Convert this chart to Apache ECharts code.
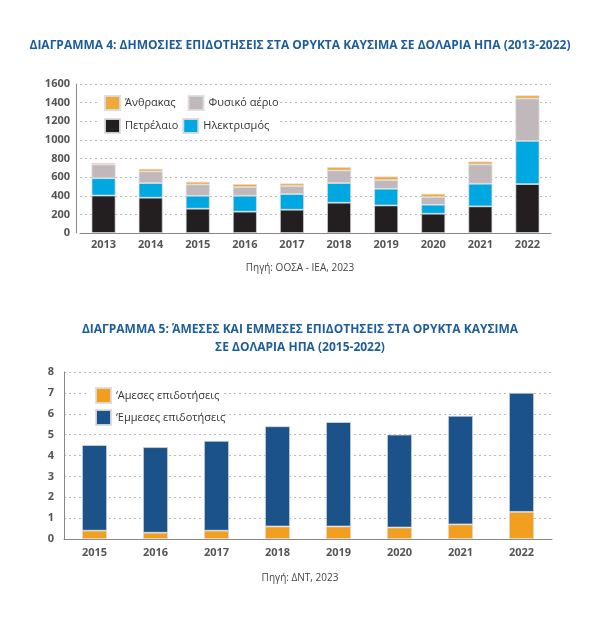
<!DOCTYPE html>
<html>
<head>
<meta charset="utf-8">
<script src="https://cdn.jsdelivr.net/npm/echarts@6/dist/echarts.min.js"></script>
<style>html,body{margin:0;padding:0;background:#fff}#c{width:600px;height:632px}</style>
</head>
<body>
<div id="c"></div>
<script>
// Chart 4 data
const years1 = ['2013','2014','2015','2016','2017','2018','2019','2020','2021','2022'];
const oil = [402, 379, 261, 229, 250, 325, 296, 207, 286, 525];
const electricity = [186, 157, 139, 171, 168, 211, 179, 97, 243, 464];
const gas = [147, 125, 121, 93, 86, 135, 93, 82, 207, 454];
const coal = [17, 28, 29, 32, 28, 36, 39, 35, 32, 35];
const yTicks1 = [0, 200, 400, 600, 800, 1000, 1200, 1400, 1600];

// Chart 5 data
const years2 = ['2015','2016','2017','2018','2019','2020','2021','2022'];
const direct = [0.4, 0.3, 0.4, 0.6, 0.6, 0.55, 0.7, 1.3];
const indirect = [4.1, 4.1, 4.3, 4.8, 5.0, 4.45, 5.2, 5.7];
const yTicks2 = [0, 1, 2, 3, 4, 5, 6, 7, 8];

const FONT = '"Open Sans", "Noto Sans", sans-serif';
const titleColor = '#1d5d9b';
const axisLabel = {color: '#555', fontWeight: 'bold', fontSize: 11, fontFamily: FONT, formatter: v => String(v)};
const splitLine = {show: true, lineStyle: {color: '#bbb', type: [2, 3], width: 1}};
const border = {borderColor: 'rgba(220,220,220,0.9)', borderWidth: 0.8};
const titleStyle = {color: titleColor, fontSize: 12, fontWeight: 'bold', fontFamily: FONT};
const srcStyle = {color: '#444', fontSize: 10, fontWeight: 'normal', fontFamily: FONT};

const chart = echarts.init(document.getElementById('c'), null, {renderer: 'canvas'});
chart.setOption({
  backgroundColor: '#fff',
  animation: false,
  textStyle: {fontFamily: FONT},
  title: [
    {text: 'ΔΙΑΓΡΑΜΜΑ 4: ΔΗΜΟΣΙΕΣ ΕΠΙΔΟΤΗΣΕΙΣ ΣΤΑ ΟΡΥΚΤΑ ΚΑΥΣΙΜΑ ΣΕ ΔΟΛΑΡΙΑ ΗΠΑ (2013-2022)',
     left: 'center', top: 40, padding: 0, textStyle: titleStyle},
    {text: 'Πηγή: ΟΟΣΑ - ΙΕΑ, 2023', left: 'center', top: 263, padding: 0, textStyle: srcStyle},
    {text: 'ΔΙΑΓΡΑΜΜΑ 5: ΆΜΕΣΕΣ ΚΑΙ ΕΜΜΕΣΕΣ ΕΠΙΔΟΤΗΣΕΙΣ ΣΤΑ ΟΡΥΚΤΑ ΚΑΥΣΙΜΑ',
     left: 'center', top: 324, padding: 0, textStyle: titleStyle},
    {text: 'ΣΕ ΔΟΛΑΡΙΑ ΗΠΑ (2015-2022)',
     left: 'center', top: 342, padding: 0, textStyle: titleStyle},
    {text: 'Πηγή: ΔΝΤ, 2023', left: 'center', top: 573, padding: 0, textStyle: srcStyle}
  ],
  graphic: [
    {type: 'rect', left: 100, top: 89, z: 2, shape: {width: 177, height: 46}, style: {fill: '#fff'}},
    {type: 'rect', left: 86, top: 384, z: 2, shape: {width: 136, height: 41}, style: {fill: '#fff'}}
  ],
  legend: [
    {left: 104, top: 95, padding: 0, itemWidth: 15, itemHeight: 14, itemGap: 12, icon: 'rect', z: 5,
     data: ['Άνθρακας', 'Φυσικό αέριο'],
     textStyle: {fontSize: 11, color: '#333', fontFamily: FONT}},
    {left: 104, top: 118, padding: 0, itemWidth: 15, itemHeight: 14, itemGap: 4, icon: 'rect', z: 5,
     data: ['Πετρέλαιο', 'Ηλεκτρισμός'],
     textStyle: {fontSize: 11, color: '#333', fontFamily: FONT}},
    {left: 95, top: 387, padding: 0, orient: 'vertical', itemWidth: 15, itemHeight: 15, itemGap: 5, icon: 'rect', z: 5,
     data: ['‘Αμεσες επιδοτήσεις', '‘Εμμεσες επιδοτήσεις'],
     textStyle: {fontSize: 11, color: '#333', fontFamily: FONT}}
  ],
  grid: [
    {left: 80, top: 84, width: 471, height: 149},
    {left: 64, top: 372, width: 488, height: 167}
  ],
  xAxis: [
    {type: 'category', gridIndex: 0, data: years1,
     axisLine: {lineStyle: {color: '#888', width: 1}}, axisTick: {show: false},
     axisLabel: Object.assign({}, axisLabel, {margin: 6})},
    {type: 'category', gridIndex: 1, data: years2,
     axisLine: {lineStyle: {color: '#888', width: 1}}, axisTick: {show: false},
     axisLabel: Object.assign({}, axisLabel, {margin: 8})}
  ],
  yAxis: [
    {type: 'value', gridIndex: 0, min: yTicks1[0], max: yTicks1[yTicks1.length - 1], interval: 200, offset: 4,
     axisLine: {show: true, lineStyle: {color: '#888', width: 1}}, axisTick: {show: false},
     splitLine: splitLine, axisLabel: Object.assign({}, axisLabel, {margin: 6})},
    {type: 'value', gridIndex: 1, min: yTicks2[0], max: yTicks2[yTicks2.length - 1], interval: 1,
     axisLine: {show: true, lineStyle: {color: '#888', width: 1}}, axisTick: {show: false},
     splitLine: splitLine, axisLabel: Object.assign({}, axisLabel, {margin: 10})}
  ],
  series: [
    {name: 'Πετρέλαιο', type: 'bar', stack: 's1', xAxisIndex: 0, yAxisIndex: 0, barWidth: 24,
     itemStyle: Object.assign({color: '#231f20'}, border), data: oil},
    {name: 'Ηλεκτρισμός', type: 'bar', stack: 's1', xAxisIndex: 0, yAxisIndex: 0, barWidth: 24,
     itemStyle: Object.assign({color: '#00a8e2'}, border), data: electricity},
    {name: 'Φυσικό αέριο', type: 'bar', stack: 's1', xAxisIndex: 0, yAxisIndex: 0, barWidth: 24,
     itemStyle: Object.assign({color: '#c0b8ba'}, border), data: gas},
    {name: 'Άνθρακας', type: 'bar', stack: 's1', xAxisIndex: 0, yAxisIndex: 0, barWidth: 24,
     itemStyle: Object.assign({color: '#f2a93b'}, border), data: coal},
    {name: '‘Αμεσες επιδοτήσεις', type: 'bar', stack: 's2', xAxisIndex: 1, yAxisIndex: 1, barWidth: 25,
     itemStyle: Object.assign({color: '#f29e1f'}, border), data: direct},
    {name: '‘Εμμεσες επιδοτήσεις', type: 'bar', stack: 's2', xAxisIndex: 1, yAxisIndex: 1, barWidth: 25,
     itemStyle: Object.assign({color: '#1a5289'}, border), data: indirect}
  ]
});
</script>
</body>
</html>
